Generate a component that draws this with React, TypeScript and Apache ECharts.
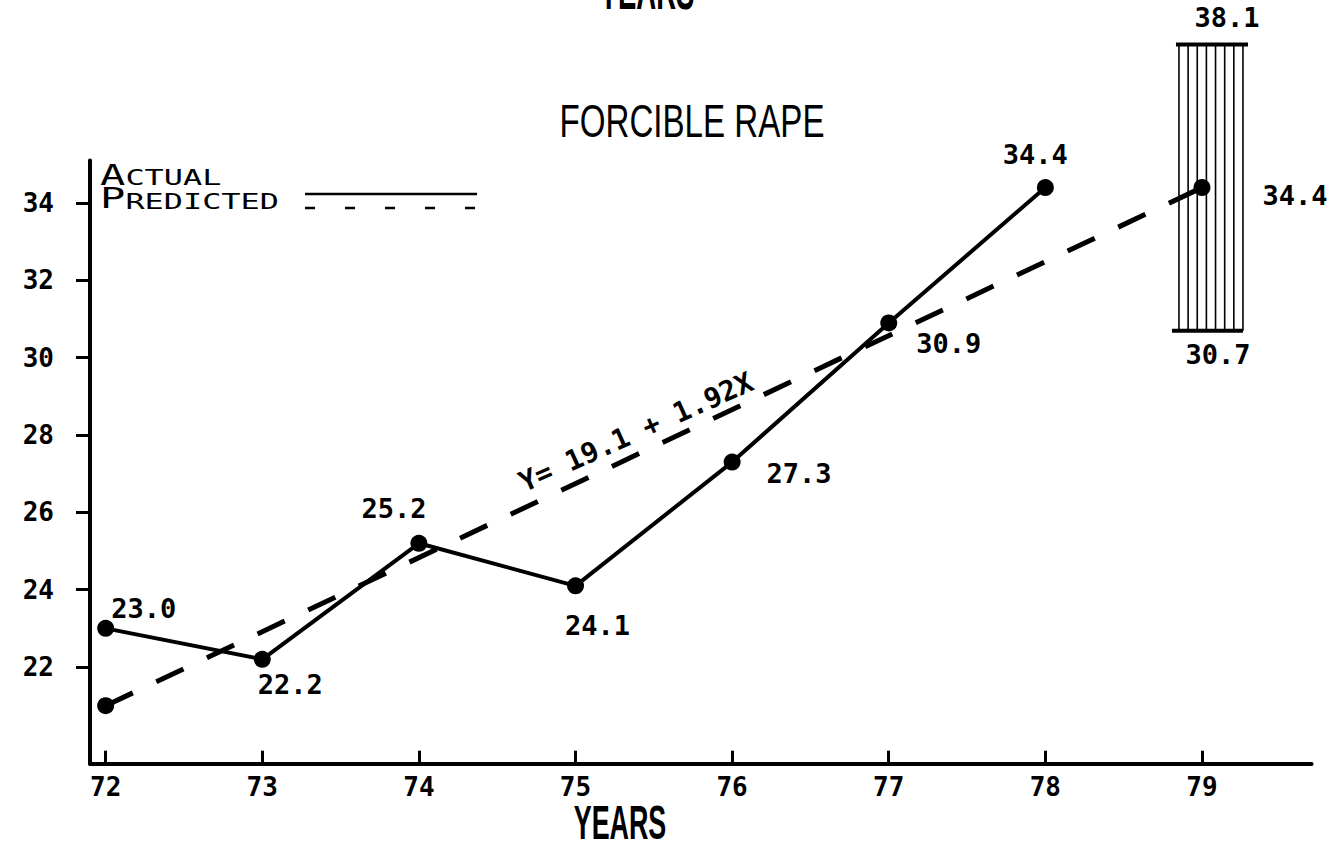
import React, { useEffect, useRef } from 'react';
import * as echarts from 'echarts';

// ---------- data ----------
const yearTicks = [72, 73, 74, 75, 76, 77, 78, 79];
const valueTicks = [22, 24, 26, 28, 30, 32, 34];
const actualYears = [72, 73, 74, 75, 76, 77, 78];
const actualValues = [23.0, 22.2, 25.2, 24.1, 27.3, 30.9, 34.4];
const predictedYears = [72, 79];
const predictedValues = [21.0, 34.4];
const intervalYear = 79;
const intervalLow = 30.7;
const intervalHigh = 38.1;
const equationText = 'Y= 19.1 + 1.92X';
const titleText = 'FORCIBLE RAPE';
const axisTitle = 'YEARS';

// ---------- styles (label offsets in px, relative to each point) ----------
const actualLabelOffsets = [[38, -20], [28, 25], [-25, -35], [22, 40], [67, 11], [60, 21], [-10, -33]];
const predictedLabelOffsets = [null, [93, 8]];

const MONO = "'DejaVu Sans Mono', 'Liberation Mono', monospace";
const SANS = "'Liberation Sans', Arial, sans-serif";
const INK = '#000';

export default function App() {
  const ref = useRef<HTMLDivElement>(null);

  useEffect(() => {
    document.body.style.margin = '0';
    const chart = echarts.init(ref.current!, null, { renderer: 'svg' });

    const labelBase = {
      show: true,
      position: 'inside',
      color: INK,
      fontFamily: MONO,
      fontSize: 27,
      fontWeight: 'bold',
      formatter: (p: any) => Number(p.value[1]).toFixed(1),
    };

    const option: any = {
      animation: false,
      backgroundColor: '#fff',
      grid: {
        left: 90,
        top: 160.5,
        width: 1221.6,
        height: 603.2,
        outerBoundsMode: 'none',
      },
      xAxis: {
        type: 'value',
        min: 71.9,
        max: 79.7,
        axisLine: { show: true, lineStyle: { color: INK, width: 4 } },
        axisTick: {
          show: true,
          inside: true,
          length: 13,
          customValues: yearTicks,
          lineStyle: { color: INK, width: 3 },
        },
        axisLabel: {
          show: true,
          customValues: yearTicks,
          margin: 10,
          color: INK,
          fontFamily: MONO,
          fontSize: 26,
          fontWeight: 'bold',
        },
        splitLine: { show: false },
      },
      yAxis: {
        type: 'value',
        min: 19.5,
        max: 35.1,
        axisLine: { show: true, lineStyle: { color: INK, width: 4 } },
        axisTick: {
          show: true,
          inside: false,
          length: 14,
          customValues: valueTicks,
          lineStyle: { color: INK, width: 3 },
        },
        axisLabel: {
          show: true,
          customValues: valueTicks,
          margin: 36,
          color: INK,
          fontFamily: MONO,
          fontSize: 26,
          fontWeight: 'bold',
        },
        splitLine: { show: false },
      },
      series: [
        {
          type: 'custom',
          name: 'interval',
          clip: false,
          z: 1,
          data: [[intervalYear, intervalLow, intervalHigh]],
          renderItem: (params: any, api: any) => {
            const yr = api.value(0);
            const lo = api.coord([yr, api.value(1)]);
            const hi = api.coord([yr, api.value(2)]);
            const cx = lo[0] + 9;
            const half = 34;
            const children: any[] = [];
            const n = 8;
            for (let i = 0; i < n; i++) {
              const xx = cx - half + 2 + (i * (2 * half - 4)) / (n - 1);
              children.push({
                type: 'line',
                shape: { x1: xx, y1: hi[1], x2: xx, y2: lo[1] },
                style: { stroke: INK, lineWidth: 1.6 },
              });
            }
            children.push({
              type: 'line',
              shape: { x1: cx - half - 1, y1: hi[1], x2: cx + half + 3, y2: hi[1] },
              style: { stroke: INK, lineWidth: 4 },
            });
            children.push({
              type: 'line',
              shape: { x1: cx - half - 5, y1: lo[1], x2: cx + half - 2, y2: lo[1] },
              style: { stroke: INK, lineWidth: 4 },
            });
            children.push({
              type: 'text',
              x: lo[0] + 25,
              y: Math.max(hi[1] - 27, 17),
              style: {
                text: Number(api.value(2)).toFixed(1),
                align: 'center',
                verticalAlign: 'middle',
                fontFamily: MONO,
                fontSize: 27,
                fontWeight: 'bold',
                fill: INK,
              },
            });
            children.push({
              type: 'text',
              x: lo[0] + 16,
              y: lo[1] + 24,
              style: {
                text: Number(api.value(1)).toFixed(1),
                align: 'center',
                verticalAlign: 'middle',
                fontFamily: MONO,
                fontSize: 27,
                fontWeight: 'bold',
                fill: INK,
              },
            });
            return { type: 'group', children };
          },
        },
        {
          type: 'line',
          name: 'Predicted',
          z: 2,
          data: predictedYears.map((yr, i) => ({
            value: [yr, predictedValues[i]],
            label: predictedLabelOffsets[i]
              ? { show: true, offset: predictedLabelOffsets[i] }
              : { show: false },
          })),
          symbol: 'circle',
          symbolSize: 17,
          itemStyle: { color: INK },
          lineStyle: { color: INK, width: 5, type: [30, 26], cap: 'butt' },
          label: labelBase,
        },
        {
          type: 'line',
          name: 'Actual',
          z: 3,
          data: actualYears.map((yr, i) => ({
            value: [yr, actualValues[i]],
            label: { offset: actualLabelOffsets[i] },
          })),
          symbol: 'circle',
          symbolSize: 17,
          itemStyle: { color: INK },
          lineStyle: { color: INK, width: 4 },
          label: labelBase,
        },
      ],
      graphic: [
        {
          type: 'text',
          x: 647,
          y: -9,
          scaleX: 0.52,
          style: {
            text: axisTitle,
            align: 'center',
            verticalAlign: 'middle',
            fontFamily: SANS,
            fontWeight: 'bold',
            fontSize: 53,
            fill: INK,
          },
        },
        {
          type: 'text',
          x: 692,
          y: 121,
          scaleX: 0.72,
          style: {
            text: titleText,
            align: 'center',
            verticalAlign: 'middle',
            fontFamily: SANS,
            fontWeight: 'normal',
            fontSize: 46,
            fill: INK,
          },
        },
        {
          type: 'text',
          x: 620,
          y: 822,
          scaleX: 0.56,
          style: {
            text: axisTitle,
            align: 'center',
            verticalAlign: 'middle',
            fontFamily: SANS,
            fontWeight: 'bold',
            fontSize: 48,
            fill: INK,
          },
        },
        {
          type: 'group',
          x: 100,
          y: 0,
          scaleX: 1.45,
          children: [
            { type: 'text', x: 0, y: 175, style: { text: 'A', align: 'left', verticalAlign: 'middle', fontFamily: MONO, fontSize: 29, fill: INK } },
            { type: 'text', x: 17.5, y: 177, style: { text: 'CTUAL', align: 'left', verticalAlign: 'middle', fontFamily: MONO, fontSize: 22, fill: INK } },
            { type: 'text', x: 0, y: 198, style: { text: 'P', align: 'left', verticalAlign: 'middle', fontFamily: MONO, fontSize: 29, fill: INK } },
            { type: 'text', x: 17.5, y: 201, style: { text: 'REDICTED', align: 'left', verticalAlign: 'middle', fontFamily: MONO, fontSize: 22, fill: INK } },
          ],
        },
        {
          type: 'line',
          shape: { x1: 305, y1: 194, x2: 477, y2: 194 },
          style: { stroke: INK, lineWidth: 2.5 },
        },
        {
          type: 'line',
          shape: { x1: 305, y1: 208, x2: 477, y2: 208 },
          style: { stroke: INK, lineWidth: 2.5, lineDash: [10, 30] },
        },
        {
          type: 'text',
          x: 636,
          y: 432,
          rotation: 0.42,
          style: {
            text: equationText,
            align: 'center',
            verticalAlign: 'middle',
            fontFamily: MONO,
            fontSize: 28,
            fontWeight: 'bold',
            fill: INK,
          },
        },
      ],
    };

    chart.setOption(option);
    return () => chart.dispose();
  }, []);

  return <div ref={ref} style={{ width: 1337, height: 853 }} />;
}
